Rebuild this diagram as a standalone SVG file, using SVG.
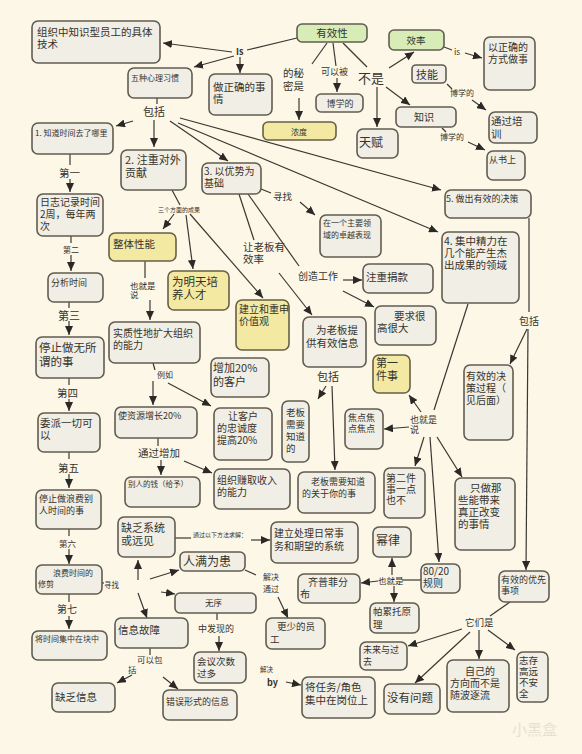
<svg xmlns="http://www.w3.org/2000/svg" width="582" height="754" viewBox="0 0 582 754">
<style>
text{font-family:"Noto Sans CJK SC","Noto Sans",sans-serif;fill:#37332c}
.b{fill:#f0eee5;stroke:#615c50;stroke-width:1.6}
.y{fill:#f3e9a2;stroke:#666046;stroke-width:1.6}
.g{fill:#d8ecb8;stroke:#615c50;stroke-width:1.6}
.c path{fill:none;stroke:#3b3833;stroke-width:1.2}
.c .a{marker-end:url(#ah)}
.lb{fill:#fcf7e7}
</style>
<defs>
<marker id="ah" markerUnits="userSpaceOnUse" markerWidth="9" markerHeight="8" refX="9" refY="4" orient="auto"><path d="M0,0 L9,4 L0,8 z" fill="#2b2925"/></marker>
</defs>
<rect width="582" height="754" fill="#fcf7e7"/>

<g id="connectors" class="c">
<path d="M297,38 L247,50"/>
<path class="a" d="M232,52 L163,43"/>
<path class="a" d="M234,56 L194,67"/>
<path class="a" d="M240,57 L240,73"/>
<path d="M327,43 L312,64"/>
<path class="a" d="M299,98 L299,120"/>
<path d="M333,43 L336,66"/>
<path class="a" d="M337,78 L337,92"/>
<path d="M343,43 L367,67"/>
<path class="a" d="M389,68 L414,52"/>
<path class="a" d="M386,87 L410,105"/>
<path class="a" d="M377,87 L377,127"/>
<path d="M444,47 L452,50"/>
<path class="a" d="M465,53 L482,58"/>
<path d="M447,84 L452,89"/>
<path class="a" d="M472,100 L486,110"/>
<path d="M442,128 L446,132"/>
<path class="a" d="M468,142 L485,150"/>
<path d="M157,98 L157,104"/>
<path class="a" d="M133,121 L116,126"/>
<path class="a" d="M154,120 L154,147"/>
<path class="a" d="M170,121 L228,161"/>
<path class="a" d="M180,118 L441,190"/>
<path class="a" d="M178,123 L438,232"/>
<path d="M70,154 L70,165"/><path class="a" d="M70,179 L70,192"/>
<path d="M71,236 L71,243"/><path class="a" d="M71,255 L71,271"/>
<path d="M69,302 L69,308"/><path class="a" d="M69,321 L69,335"/>
<path d="M69,378 L69,385"/><path class="a" d="M69,399 L69,411"/>
<path d="M69,452 L69,459"/><path class="a" d="M69,474 L69,488"/>
<path d="M69,529 L69,536"/><path class="a" d="M69,549 L69,564"/>
<path d="M69,594 L69,602"/><path class="a" d="M69,616 L69,629"/>
<path d="M172,190 L180,205"/>
<path class="a" d="M174,214 L163,229"/>
<path class="a" d="M186,215 L193,269"/>
<path class="a" d="M190,214 L263,298"/>
<path d="M145,261 L145,278"/>
<path class="a" d="M150,300 L150,320"/>
<path d="M153,363 L155,370"/>
<path class="a" d="M153,381 L153,405"/>
<path class="a" d="M168,383 L211,406"/>
<path d="M158,438 L158,446"/>
<path class="a" d="M161,460 L161,475"/>
<path class="a" d="M184,461 L212,473"/>
<path d="M261,189 L271,193"/>
<path class="a" d="M300,202 L315,215"/>
<path d="M239,194 L254,240"/>
<path class="a" d="M279,273 L312,315"/>
<path d="M248,194 L299,266"/>
<path class="a" d="M343,280 L362,280"/>
<path class="a" d="M343,291 L374,307"/>
<path class="a" d="M326,386 L318,399"/>
<path class="a" d="M332,386 L335,470"/>
<path d="M468,304 L434,410"/>
<path class="a" d="M421,412 L409,395"/>
<path class="a" d="M409,427 L384,429"/>
<path class="a" d="M424,437 L415,466"/>
<path class="a" d="M437,437 L462,477"/>
<path class="a" d="M430,437 L439,562"/>
<path d="M421,580 L402,580"/>
<path class="a" d="M392,575 L392,558"/>
<path class="a" d="M394,586 L394,602"/>
<path class="a" d="M378,581 L361,583"/>
<path d="M529,218 L529,312"/>
<path class="a" d="M527,329 L510,364"/>
<path class="a" d="M528,329 L526,570"/>
<path d="M510,602 L490,616"/>
<path class="a" d="M462,629 L408,646"/>
<path class="a" d="M470,632 L415,683"/>
<path class="a" d="M479,630 L479,659"/>
<path class="a" d="M488,630 L515,650"/>
<path d="M101,583 L104,583"/>
<path class="a" d="M138,580 L138,560"/>
<path class="a" d="M150,579 L179,570"/>
<path class="a" d="M161,592 L175,594"/>
<path class="a" d="M138,593 L147,618"/>
<path d="M175,538 L191,538"/>
<path class="a" d="M251,540 L270,540"/>
<path d="M245,570 L256,575"/>
<path class="a" d="M278,597 L288,618"/>
<path d="M217,613 L217,620"/>
<path class="a" d="M219,636 L219,651"/>
<path d="M150,648 L150,655"/>
<path class="a" d="M132,675 L117,683"/>
<path class="a" d="M163,677 L178,689"/>
<path class="a" d="M286,682 L301,685"/>
</g>

<g id="labels">
<text x="236" y="55" font-size="9" font-family="Liberation Serif,serif" font-weight="bold">Is</text>
<text font-size="10.5"><tspan x="283" y="77">的秘</tspan><tspan x="283" y="90">密是</tspan></text>
<text x="321" y="75" font-size="9">可以被</text>
<text x="358" y="83" font-size="13">不是</text>
<text x="454" y="55" font-size="8.5">is</text>
<text x="450" y="96" font-size="8">博学的</text>
<text x="440" y="140" font-size="8">博学的</text>
<text x="143" y="116" font-size="11">包括</text>
<text x="59" y="177" font-size="10.5">第一</text>
<text x="63" y="253" font-size="8">第二</text>
<text x="58" y="320" font-size="11">第三</text>
<text x="57" y="397" font-size="10.5">第四</text>
<text x="58" y="472" font-size="10.5">第五</text>
<text x="59" y="547" font-size="8.5">第六</text>
<text x="57" y="613" font-size="10">第七</text>
<text x="104" y="588" font-size="7.5">寻找</text>
<text x="158" y="212" font-size="6">三个方面的成果</text>
<text font-size="8.5"><tspan x="130" y="289">也就是</tspan><tspan x="130" y="298">说</tspan></text>
<text x="157" y="378" font-size="8">例如</text>
<text x="138" y="457" font-size="10.5">通过增加</text>
<text x="273" y="200" font-size="9.5">寻找</text>
<text font-size="10.5"><tspan x="243" y="251">让老板有</tspan><tspan x="243" y="263">效率</tspan></text>
<text x="298" y="280" font-size="10">创造工作</text>
<text x="317" y="381" font-size="11">包括</text>
<text x="519" y="325" font-size="10">包括</text>
<text font-size="9"><tspan x="410" y="423">也就是</tspan><tspan x="410" y="433">说</tspan></text>
<text x="378" y="584" font-size="8.5">也就是</text>
<text x="465" y="626" font-size="9.5">它们是</text>
<text x="193" y="537" font-size="6">通过以下方法求解：</text>
<text font-size="8"><tspan x="263" y="580">解决</tspan><tspan x="263" y="592">通过</tspan></text>
<text x="198" y="632" font-size="9">中发现的</text>
<text font-size="8.5"><tspan x="137" y="663">可以包</tspan><tspan x="128" y="673">括</tspan></text>
<text x="260" y="672" font-size="6.5">解决</text>
<text x="267" y="686" font-size="9" font-weight="bold">by</text>
</g>

<g id="n-skill"><rect class="b" x="32" y="21" width="128" height="42" rx="6"/><text font-size="10.5"><tspan x="37" y="36">组织中知识型员工的具体</tspan><tspan x="37" y="48">技术</tspan></text></g>
<g id="n-effect"><rect class="g" x="297" y="24" width="70" height="18" rx="5"/><text x="332" y="37" font-size="10.5" text-anchor="middle">有效性</text></g>
<g id="n-eff2"><rect class="g" x="389" y="30" width="55" height="20" rx="5"/><text x="416" y="44" font-size="9.5" text-anchor="middle">效率</text></g>
<g id="n-rightway"><rect class="b" x="484" y="37" width="51" height="53" rx="6"/><text font-size="10"><tspan x="488" y="51">以正确的</tspan><tspan x="488" y="63">方式做事</tspan></text></g>
<g id="n-five"><rect class="b" x="128" y="68" width="64" height="30" rx="6"/><text x="131" y="81" font-size="8">五种心理习惯</text></g>
<g id="n-right"><rect class="b" x="209" y="74" width="63" height="41" rx="6"/><text font-size="10.5"><tspan x="213" y="91">做正确的事</tspan><tspan x="213" y="103">情</tspan></text></g>
<g id="n-learned"><rect class="b" x="316" y="94" width="47" height="18" rx="5"/><text x="340" y="107" font-size="9" text-anchor="middle">博学的</text></g>
<g id="n-skillbox"><rect class="b" x="412" y="65" width="34" height="18" rx="4"/><text x="416" y="79" font-size="11">技能</text></g>
<g id="n-know"><rect class="b" x="396" y="107" width="60" height="20" rx="5"/><text x="414" y="121" font-size="10">知识</text></g>
<g id="n-conc"><rect class="y" x="263" y="122" width="73" height="18" rx="5"/><text x="299" y="135" font-size="8" text-anchor="middle">浓度</text></g>
<g id="n-talent"><rect class="b" x="357" y="129" width="41" height="29" rx="6"/><text x="359" y="147" font-size="12">天赋</text></g>
<g id="n-train"><rect class="b" x="489" y="112" width="48" height="31" rx="6"/><text font-size="10.5"><tspan x="491" y="125">通过培</tspan><tspan x="491" y="138">训</tspan></text></g>
<g id="n-book"><rect class="b" x="487" y="151" width="38" height="29" rx="6"/><text x="489" y="163" font-size="9">从书上</text></g>
<g id="n-1"><rect class="b" x="32" y="123" width="81" height="31" rx="6"/><text x="35" y="136" font-size="8">1. 知道时间去了哪里</text></g>
<g id="n-2"><rect class="b" x="121" y="150" width="65" height="40" rx="6"/><text font-size="11"><tspan x="125" y="164">2. 注重对外</tspan><tspan x="125" y="177">贡献</tspan></text></g>
<g id="n-3"><rect class="b" x="202" y="163" width="59" height="31" rx="6"/><text font-size="10"><tspan x="204" y="175">3. 以优势为</tspan><tspan x="204" y="187">基础</tspan></text></g>
<g id="n-5"><rect class="b" x="445" y="190" width="86" height="28" rx="6"/><text x="446" y="202" font-size="9">5. 做出有效的决策</text></g>
<g id="n-4"><rect class="b" x="442" y="232" width="77" height="71" rx="6"/><text font-size="10.5"><tspan x="444" y="245">4. 集中精力在</tspan><tspan x="444" y="257">几个能产生杰</tspan><tspan x="444" y="269">出成果的领域</tspan></text></g>
<g id="n-excel"><rect class="b" x="320" y="215" width="61" height="42" rx="6"/><text font-size="8"><tspan x="323" y="226">在一个主要领</tspan><tspan x="323" y="238">域的卓越表现</tspan></text></g>
<g id="n-whole"><rect class="y" x="109" y="233" width="67" height="28" rx="6"/><text x="113" y="248" font-size="10.5">整体性能</text></g>
<g id="n-tomorrow"><rect class="y" x="168" y="271" width="61" height="39" rx="6"/><text font-size="11.5"><tspan x="172" y="286">为明天培</tspan><tspan x="172" y="299">养人才</tspan></text></g>
<g id="n-values"><rect class="y" x="236" y="300" width="53" height="50" rx="6"/><text font-size="10"><tspan x="239" y="313">建立和重申</tspan><tspan x="239" y="325">价值观</tspan></text></g>
<g id="n-donate"><rect class="b" x="363" y="264" width="70" height="29" rx="6"/><text x="366" y="281" font-size="10.5">注重捐款</text></g>
<g id="n-demand"><rect class="b" x="375" y="306" width="61" height="39" rx="6"/><text font-size="10.5"><tspan x="394" y="320">要求很</tspan><tspan x="377" y="332">高很大</tspan></text></g>
<g id="n-bossinfo"><rect class="b" x="303" y="317" width="63" height="50" rx="6"/><text font-size="10.5"><tspan x="316" y="334">为老板提</tspan><tspan x="306" y="347">供有效信息</tspan></text></g>
<g id="n-first"><rect class="y" x="373" y="355" width="37" height="38" rx="6"/><text font-size="11"><tspan x="376" y="367">第一</tspan><tspan x="376" y="380">件事</tspan></text></g>
<g id="n-expand"><rect class="b" x="109" y="322" width="91" height="41" rx="6"/><text font-size="10"><tspan x="113" y="337">实质性地扩大组织</tspan><tspan x="113" y="349">的能力</tspan></text></g>
<g id="n-cust"><rect class="b" x="211" y="358" width="58" height="39" rx="6"/><text font-size="11"><tspan x="213" y="372">增加20%</tspan><tspan x="213" y="386">的客户</tspan></text></g>
<g id="n-process"><rect class="b" x="464" y="365" width="49" height="75" rx="6"/><text font-size="10"><tspan x="466" y="380">有效的决</tspan><tspan x="466" y="392">策过程（</tspan><tspan x="466" y="404">见后面）</tspan></text></g>
<g id="n-log"><rect class="b" x="37" y="194" width="66" height="42" rx="6"/><text font-size="10"><tspan x="40" y="206">日志记录时间</tspan><tspan x="40" y="218">2周，每年两</tspan><tspan x="40" y="230">次</tspan></text></g>
<g id="n-analyze"><rect class="b" x="48" y="273" width="55" height="29" rx="6"/><text x="51" y="286" font-size="9">分析时间</text></g>
<g id="n-stop"><rect class="b" x="36" y="337" width="68" height="41" rx="6"/><text font-size="11.5"><tspan x="39" y="352">停止做无所</tspan><tspan x="39" y="366">谓的事</tspan></text></g>
<g id="n-delegate"><rect class="b" x="38" y="413" width="62" height="39" rx="6"/><text font-size="10.5"><tspan x="40" y="427">委派一切可</tspan><tspan x="40" y="439">以</tspan></text></g>
<g id="n-stopwaste"><rect class="b" x="36" y="490" width="65" height="39" rx="6"/><text font-size="9"><tspan x="39" y="502">停止做浪费别</tspan><tspan x="39" y="514">人时间的事</tspan></text></g>
<g id="n-prune"><rect class="b" x="36" y="565" width="66" height="29" rx="6"/><text font-size="8"><tspan x="53" y="576">浪费时间的</tspan><tspan x="38" y="587">修剪</tspan></text></g>
<g id="n-blocks"><rect class="b" x="32" y="631" width="75" height="29" rx="6"/><text x="35" y="642" font-size="8">将时间集中在块中</text></g>
<g id="n-res"><rect class="b" x="115" y="407" width="82" height="31" rx="6"/><text x="118" y="419" font-size="9">使资源增长20%</text></g>
<g id="n-loyal"><rect class="b" x="214" y="408" width="58" height="52" rx="6"/><text font-size="10"><tspan x="228" y="420">让客户</tspan><tspan x="217" y="432">的忠诚度</tspan><tspan x="217" y="444">提高20%</tspan></text></g>
<g id="n-bossknow"><rect class="b" x="282" y="401" width="27" height="61" rx="6"/><text font-size="9.5"><tspan x="286" y="416">老板</tspan><tspan x="286" y="428">需要</tspan><tspan x="286" y="440">知道</tspan><tspan x="286" y="452">的</tspan></text></g>
<g id="n-focus"><rect class="b" x="345" y="409" width="38" height="40" rx="6"/><text font-size="9"><tspan x="348" y="421">焦点焦</tspan><tspan x="348" y="432">点焦点</tspan></text></g>
<g id="n-money"><rect class="b" x="125" y="477" width="75" height="30" rx="6"/><text x="128" y="487" font-size="7.5">别人的钱（给予）</text></g>
<g id="n-income"><rect class="b" x="214" y="469" width="76" height="40" rx="6"/><text font-size="10"><tspan x="217" y="484">组织赚取收入</tspan><tspan x="217" y="496">的能力</tspan></text></g>
<g id="n-aboutyou"><rect class="b" x="298" y="472" width="77" height="41" rx="6"/><text font-size="9"><tspan x="311" y="485">老板需要知道</tspan><tspan x="302" y="497">的关于你的事</tspan></text></g>
<g id="n-second"><rect class="b" x="384" y="468" width="41" height="50" rx="6"/><text font-size="10"><tspan x="386" y="482">第二件</tspan><tspan x="386" y="493">事一点</tspan><tspan x="386" y="504">也不</tspan></text></g>
<g id="n-change"><rect class="b" x="455" y="478" width="60" height="72" rx="6"/><text font-size="10.5"><tspan x="470" y="492">只做那</tspan><tspan x="458" y="504">些能带来</tspan><tspan x="458" y="516">真正改变</tspan><tspan x="458" y="528">的事情</tspan></text></g>
<g id="n-system"><rect class="b" x="118" y="517" width="57" height="40" rx="6"/><text font-size="11"><tspan x="121" y="532">缺乏系统</tspan><tspan x="121" y="545">或远见</tspan></text></g>
<g id="n-build"><rect class="b" x="271" y="522" width="87" height="41" rx="6"/><text font-size="10"><tspan x="274" y="537">建立处理日常事</tspan><tspan x="274" y="550">务和期望的系统</tspan></text></g>
<g id="n-power"><rect class="b" x="373" y="527" width="38" height="30" rx="6"/><text x="376" y="545" font-size="12">幂律</text></g>
<g id="n-8020"><rect class="b" x="421" y="564" width="39" height="29" rx="6"/><text font-size="10"><tspan x="423" y="575">80/20</tspan><tspan x="423" y="587">规则</tspan></text></g>
<g id="n-crowd"><rect class="b" x="180" y="552" width="65" height="19" rx="5"/><text x="183" y="566" font-size="12">人满为患</text></g>
<g id="n-disorder"><rect class="b" x="175" y="593" width="81" height="20" rx="5"/><text x="205" y="606" font-size="8.5">无序</text></g>
<g id="n-zipf"><rect class="b" x="298" y="574" width="62" height="29" rx="6"/><text font-size="10"><tspan x="308" y="586">齐普菲分</tspan><tspan x="300" y="598">布</tspan></text></g>
<g id="n-pareto"><rect class="b" x="370" y="603" width="49" height="30" rx="6"/><text font-size="9.5"><tspan x="373" y="615">帕累托原</tspan><tspan x="373" y="628">理</tspan></text></g>
<g id="n-priority"><rect class="b" x="499" y="571" width="50" height="31" rx="6"/><text font-size="9"><tspan x="501" y="583">有效的优先</tspan><tspan x="501" y="594">事项</tspan></text></g>
<g id="n-fewer"><rect class="b" x="266" y="618" width="59" height="31" rx="6"/><text font-size="9.5"><tspan x="277" y="630">更少的员</tspan><tspan x="270" y="643">工</tspan></text></g>
<g id="n-infofail"><rect class="b" x="115" y="618" width="73" height="30" rx="6"/><text x="118" y="634" font-size="10.5">信息故障</text></g>
<g id="n-meetings"><rect class="b" x="194" y="652" width="52" height="31" rx="6"/><text font-size="9.5"><tspan x="197" y="665">会议次数</tspan><tspan x="197" y="677">过多</tspan></text></g>
<g id="n-future"><rect class="b" x="360" y="642" width="47" height="28" rx="6"/><text font-size="9"><tspan x="363" y="653">未来与过</tspan><tspan x="363" y="665">去</tspan></text></g>
<g id="n-own"><rect class="b" x="447" y="660" width="62" height="52" rx="6"/><text font-size="10"><tspan x="465" y="675">自己的</tspan><tspan x="450" y="687">方向而不是</tspan><tspan x="450" y="699">随波逐流</tspan></text></g>
<g id="n-high"><rect class="b" x="517" y="652" width="31" height="50" rx="6"/><text font-size="9.5"><tspan x="519" y="664">志存</tspan><tspan x="519" y="675">高远</tspan><tspan x="519" y="686">不安</tspan><tspan x="519" y="697">全</tspan></text></g>
<g id="n-lack"><rect class="b" x="52" y="683" width="63" height="29" rx="6"/><text x="55" y="701" font-size="10.5">缺乏信息</text></g>
<g id="n-wrong"><rect class="b" x="163" y="690" width="74" height="30" rx="6"/><text x="166" y="705" font-size="9">错误形式的信息</text></g>
<g id="n-assign"><rect class="b" x="302" y="677" width="73" height="41" rx="6"/><text font-size="10.5"><tspan x="305" y="691">将任务/角色</tspan><tspan x="305" y="704">集中在岗位上</tspan></text></g>
<g id="n-noproblem"><rect class="b" x="384" y="684" width="56" height="30" rx="6"/><text x="387" y="702" font-size="11.5">没有问题</text></g>

<text x="512" y="735" font-size="15" style="fill:#e6e1d3">小黑盒</text>
</svg>
